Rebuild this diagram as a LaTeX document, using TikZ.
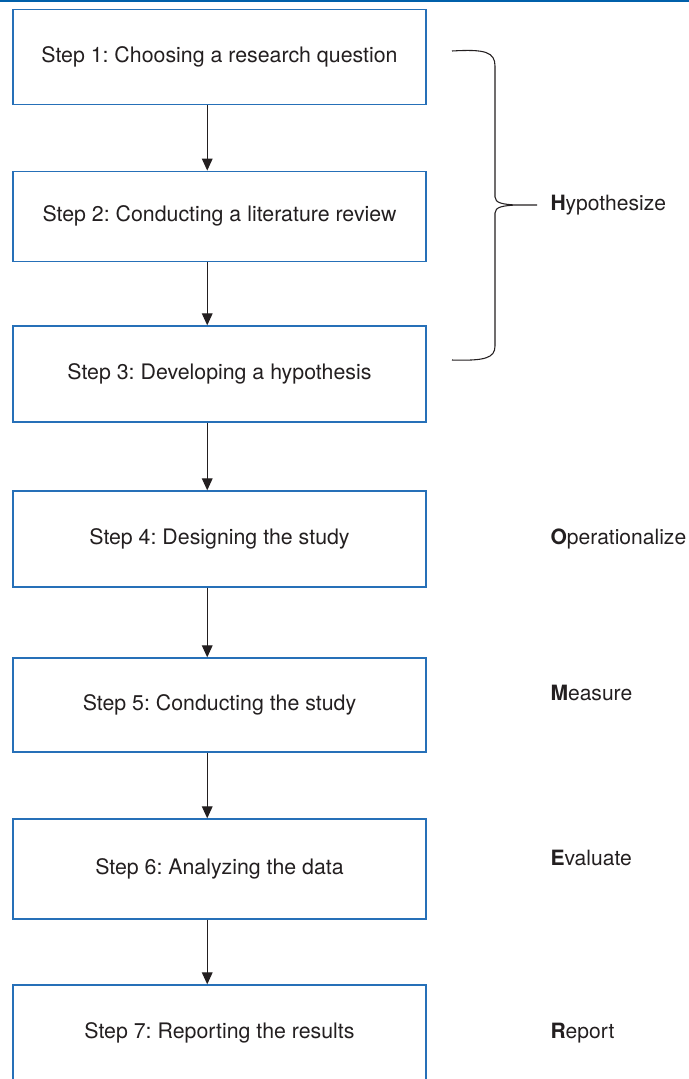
\documentclass[tikz,border=0pt]{standalone}
\usepackage{fontspec}
\setmainfont{TeX Gyre Heros}
\usetikzlibrary{arrows.meta}
\frenchspacing
\definecolor{rulingblue}{RGB}{0,96,170}
\definecolor{boxblue}{RGB}{38,112,184}
\definecolor{inkblack}{RGB}{35,31,32}
\tikzset{every picture/.style={line width=0.75pt}}
\tikzset{
  stepbox/.style={draw=boxblue, line width=1pt, minimum width=309.75pt, inner sep=0pt,
    text=inkblack, font=\fontsize{16}{19}\selectfont},
  flow/.style={draw=inkblack, line width=0.9pt, -{Triangle[length=9pt,width=8pt]}},
  stagelabel/.style={anchor=west, inner sep=0pt, text=inkblack, font=\fontsize{15.8}{19}\selectfont}
}

\begin{document}
\begin{tikzpicture}[x=0.75pt,y=0.75pt,yscale=-1,xscale=1]
\useasboundingbox (0,0) rectangle (689,1079);

%Top rule
\draw [color=rulingblue, line width=1.5pt] (0,1) -- (689,1);

%Step boxes
\node (step1) [stepbox, minimum height=71.25pt] at (219.5,57) {Step 1: Choosing a research question};
\node (step2) [stepbox, minimum height=67.5pt] at (219.5,216.25) {Step 2: Conducting a literature review};
\node (step3) [stepbox, minimum height=72pt] at (219.5,374) {Step 3: Developing a hypothesis};
\node (step4) [stepbox, minimum height=72pt] at (219.5,539) {Step 4: Designing the study};
\node (step5) [stepbox, minimum height=70.5pt] at (219.5,705) {Step 5: Conducting the study};
\node (step6) [stepbox, minimum height=75pt] at (219.5,869) {Step 6: Analyzing the data};
\node (step7) [stepbox, minimum height=72pt] at (219.5,1033) {Step 7: Reporting the results};

%Straight Lines
\draw [flow] ([xshift=-9.2pt]step1.south) -- ([xshift=-9.2pt]step2.north);
\draw [flow] ([xshift=-9.2pt]step2.south) -- ([xshift=-9.2pt]step3.north);
\draw [flow] ([xshift=-9.2pt]step3.south) -- ([xshift=-9.2pt]step4.north);
\draw [flow] ([xshift=-9.2pt]step4.south) -- ([xshift=-9.2pt]step5.north);
\draw [flow] ([xshift=-9.2pt]step5.south) -- ([xshift=-9.2pt]step6.north);
\draw [flow] ([xshift=-9.2pt]step6.south) -- ([xshift=-9.2pt]step7.north);

%Shape: Brace
\draw [color=inkblack, line width=0.8pt] (452,51) .. controls (485,49) and (495,52) .. (495,66) -- (495,197) .. controls (495,203) and (503,204.5) .. (517,205) -- (537,205)
  (517,205) .. controls (503,205.5) and (495,207) .. (495,213) -- (495,346) .. controls (495,358) and (485,361) .. (452,360);

% Text Node
\node (hypothesize) [stagelabel] at (550,205) {\textbf{H}ypothesize};
% Text Node
\node (operationalize) [stagelabel] at (550,539) {\textbf{O}perationalize};
% Text Node
\node (measure) [stagelabel] at (550,693) {\textbf{M}easure};
% Text Node
\node (evaluate) [stagelabel] at (550,858) {\textbf{E}valuate};
% Text Node
\node (report) [stagelabel] at (550,1033) {\textbf{R}eport};

\end{tikzpicture}
\end{document}
